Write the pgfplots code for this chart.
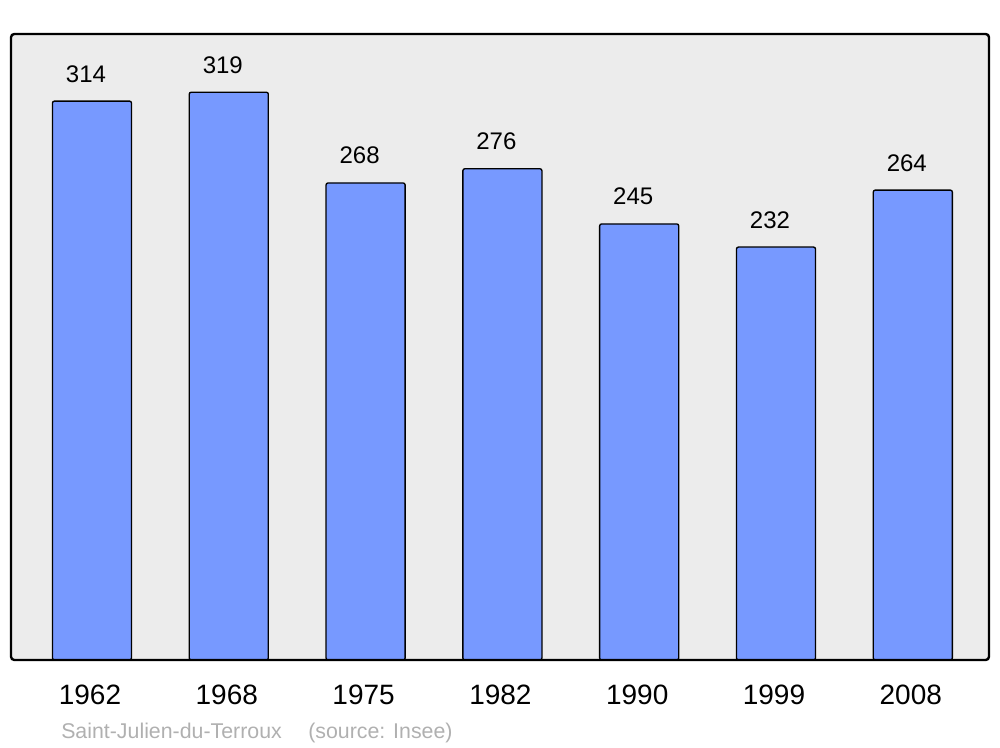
\documentclass[border=0pt]{standalone}
\usepackage{pgfplots}
\pgfplotsset{compat=1.18}
\usepackage{fontspec}
\setmainfont{Liberation Sans}
\definecolor{bg}{HTML}{ECECEC}
\definecolor{barc}{HTML}{7799FF}
\definecolor{src}{HTML}{B0B0B0}
\begin{document}
\begin{tikzpicture}
\begin{axis}[
  name=ax,
  scale only axis,
  width=733.5pt, height=469.5pt,
  xmin=-0.592, xmax=6.557,
  ymin=0, ymax=351.7,
  axis line style={draw=none},
  axis background/.style={fill=bg},
  ytick=\empty,
  xtick={0,1,2,3,4,5,6},
  xticklabels={1962,1968,1975,1982,1990,1999,2008},
  major tick length=0pt,
  xticklabel style={font=\fontsize{21}{25}\selectfont, inner sep=0pt, outer sep=0pt, anchor=north, yshift=-18.75pt, xshift=-1.5pt},
  /pgf/number format/assume math mode=true,
  clip=false,
  ybar, bar width=0.578, bar shift=0pt,
  nodes near coords,
  nodes near coords style={font=\fontsize{18}{22}\selectfont, inner sep=0pt, outer sep=0pt, anchor=base, yshift=14.25pt, xshift=-4.5pt},
]
\addplot[fill=barc, draw=black, line width=1pt, rounded corners=1.5pt] coordinates {
(0,314) (1,319) (2,268) (3,276) (4,245) (5,232) (6,264)};
\end{axis}
\draw[line width=1.8pt, rounded corners=2.5pt] (ax.south west) rectangle (ax.north east);
\path ([xshift=-8.25pt, yshift=-65.25pt]ax.south west) rectangle ([xshift=8.25pt, yshift=25.5pt]ax.north east);
\node[anchor=base west, inner sep=0pt, text=src, font=\fontsize{16}{19}\selectfont] at ([xshift=37.5pt, yshift=-58.5pt]ax.south west) {Saint-Julien-du-Terroux};
\node[anchor=base west, inner sep=0pt, text=src, font=\fontsize{16}{19}\selectfont] at ([xshift=222.75pt, yshift=-58.5pt]ax.south west) {(source: Insee)};
\end{tikzpicture}
\end{document}
